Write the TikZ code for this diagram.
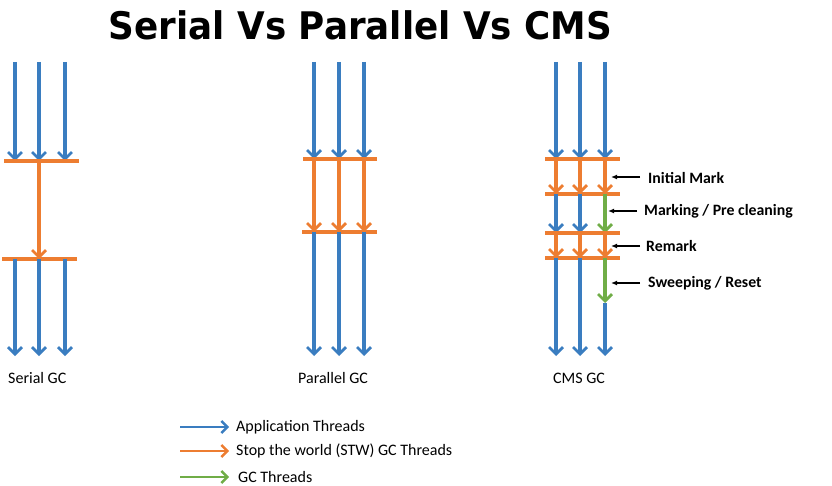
\documentclass[tikz,border=0pt]{standalone}
\usepackage{fontspec}
\setmainfont{Carlito}
\newfontfamily\titlefont{DejaVu Sans}
\usetikzlibrary{arrows.meta}
\definecolor{appblue}{HTML}{3A7DC0}
\definecolor{stworange}{HTML}{ED7D31}
\definecolor{gcgreen}{HTML}{70AD47}
\tikzset{
  thr/.style={line width=3.2pt,-{Straight Barb[length=7pt,width=14pt,line width=2.8pt]}},
  app/.style={thr,draw=appblue},
  stw/.style={thr,draw=stworange},
  gct/.style={thr,draw=gcgreen},
  bar/.style={line width=3.2pt,draw=stworange},
  lbl/.style={font=\fontsize{15.8}{18}\selectfont\bfseries,anchor=west,inner sep=0pt},
  lblarrow/.style={line width=1.2pt,-{Latex[length=6pt,width=5pt]}},
  captxt/.style={font=\fontsize{16}{19}\selectfont,inner sep=0pt,anchor=west},
  legtxt/.style={font=\fontsize{16}{19}\selectfont,anchor=west,inner sep=0pt},
  legarrow/.style={line width=2.6pt,-{Straight Barb[length=6pt,width=12pt,line width=2.4pt]}}
}
\begin{document}
\begin{tikzpicture}[x=1pt,y=-1pt]
\useasboundingbox (0,0) rectangle (832,486);
% title
\node[font=\titlefont\bfseries\fontsize{38}{44}\selectfont,inner sep=0pt] (title) at (360.5,25) {\scalebox{0.94}[1]{Serial Vs Parallel Vs CMS}};

% ---------- Serial ----------
\foreach \i/\x in {1/15,2/39,3/65}{
  \coordinate (s\i a) at (\x,62);
  \coordinate (s\i b) at (\x,161);
  \coordinate (s\i c) at (\x,259);
  \coordinate (s\i d) at (\x,356);
}
\coordinate (sL1) at (4,161); \coordinate (sR1) at (79,161);
\coordinate (sL2) at (2,259); \coordinate (sR2) at (77,259);
\foreach \i in {1,2,3}{\draw[app] (s\i a) -- (s\i b);}
\draw[bar] (sL1) -- (sR1);
\draw[stw] (s2b) -- (s2c);
\draw[bar] (sL2) -- (sR2);
\foreach \i in {1,2,3}{\draw[app] (s\i c) -- (s\i d);}
\node[captxt] (serialcap) at (8,378) {Serial GC};

% ---------- Parallel ----------
\foreach \i/\x in {1/314,2/339,3/364}{
  \coordinate (p\i a) at (\x,62);
  \coordinate (p\i b) at (\x,159);
  \coordinate (p\i c) at (\x,232);
  \coordinate (p\i d) at (\x,356);
}
\coordinate (pL1) at (303,159); \coordinate (pR1) at (377,159);
\coordinate (pL2) at (302,232); \coordinate (pR2) at (377,232);
\foreach \i in {1,2,3}{\draw[app] (p\i a) -- (p\i b);}
\draw[bar] (pL1) -- (pR1);
\foreach \i in {1,2,3}{\draw[stw] (p\i b) -- (p\i c);}
\draw[bar] (pL2) -- (pR2);
\foreach \i in {1,2,3}{\draw[app] (p\i c) -- (p\i d);}
\node[captxt] (parcap) at (298,378) {Parallel GC};

% ---------- CMS ----------
\foreach \i/\x in {1/556,2/580,3/605}{
  \coordinate (c\i a) at (\x,62);
  \coordinate (c\i b) at (\x,159);
  \coordinate (c\i c) at (\x,194);
  \coordinate (c\i d) at (\x,233);
  \coordinate (c\i e) at (\x,258);
  \coordinate (c\i f) at (\x,356);
}
\coordinate (c3g) at (605,303);
\coordinate (cL1) at (545,159); \coordinate (cR1) at (620,159);
\coordinate (cL2) at (545,194); \coordinate (cR2) at (620,194);
\coordinate (cL3) at (545,233); \coordinate (cR3) at (620,233);
\coordinate (cL4) at (545,258); \coordinate (cR4) at (620,258);
\foreach \i in {1,2,3}{\draw[app] (c\i a) -- (c\i b);}
\draw[bar] (cL1) -- (cR1);
\foreach \i in {1,2,3}{\draw[stw] (c\i b) -- (c\i c);}
\draw[bar] (cL2) -- (cR2);
\draw[app] (c1c) -- (c1d);
\draw[app] (c2c) -- (c2d);
\draw[gct] (c3c) -- (c3d);
\draw[bar] (cL3) -- (cR3);
\foreach \i in {1,2,3}{\draw[stw] (c\i d) -- (c\i e);}
\draw[bar] (cL4) -- (cR4);
\draw[app] (c1e) -- (c1f);
\draw[app] (c2e) -- (c2f);
\draw[gct] (c3e) -- (c3g);
\draw[app] (c3g) -- (c3f);
\node[captxt] (cmscap) at (553,378) {CMS GC};

% phase labels
\node[lbl] (initmark) at (648,178) {Initial Mark};
\node[lbl] (marking) at (644,211) {Marking / Pre cleaning};
\node[lbl] (remark) at (646,246) {Remark};
\node[lbl] (sweep) at (648,283) {Sweeping / Reset};
\coordinate (a1s) at (640,177); \coordinate (a1e) at (611,177);
\coordinate (a2s) at (637,211); \coordinate (a2e) at (608,211);
\coordinate (a3s) at (640,246); \coordinate (a3e) at (611,246);
\coordinate (a4s) at (640,283); \coordinate (a4e) at (611,283);
\draw[lblarrow] (a1s) -- (a1e);
\draw[lblarrow] (a2s) -- (a2e);
\draw[lblarrow] (a3s) -- (a3e);
\draw[lblarrow] (a4s) -- (a4e);

% legend
\coordinate (l1s) at (180,427); \coordinate (l1e) at (229,427);
\coordinate (l2s) at (180,451); \coordinate (l2e) at (229,451);
\coordinate (l3s) at (180,477); \coordinate (l3e) at (229,477);
\draw[legarrow,draw=appblue] (l1s) -- (l1e);
\draw[legarrow,draw=stworange] (l2s) -- (l2e);
\draw[legarrow,draw=gcgreen] (l3s) -- (l3e);
\node[legtxt] (leg1) at (236,427) {Application Threads};
\node[legtxt] (leg2) at (236,451) {Stop the world (STW) GC Threads};
\node[legtxt] (leg3) at (238,477) {GC Threads};
\end{tikzpicture}
\end{document}
